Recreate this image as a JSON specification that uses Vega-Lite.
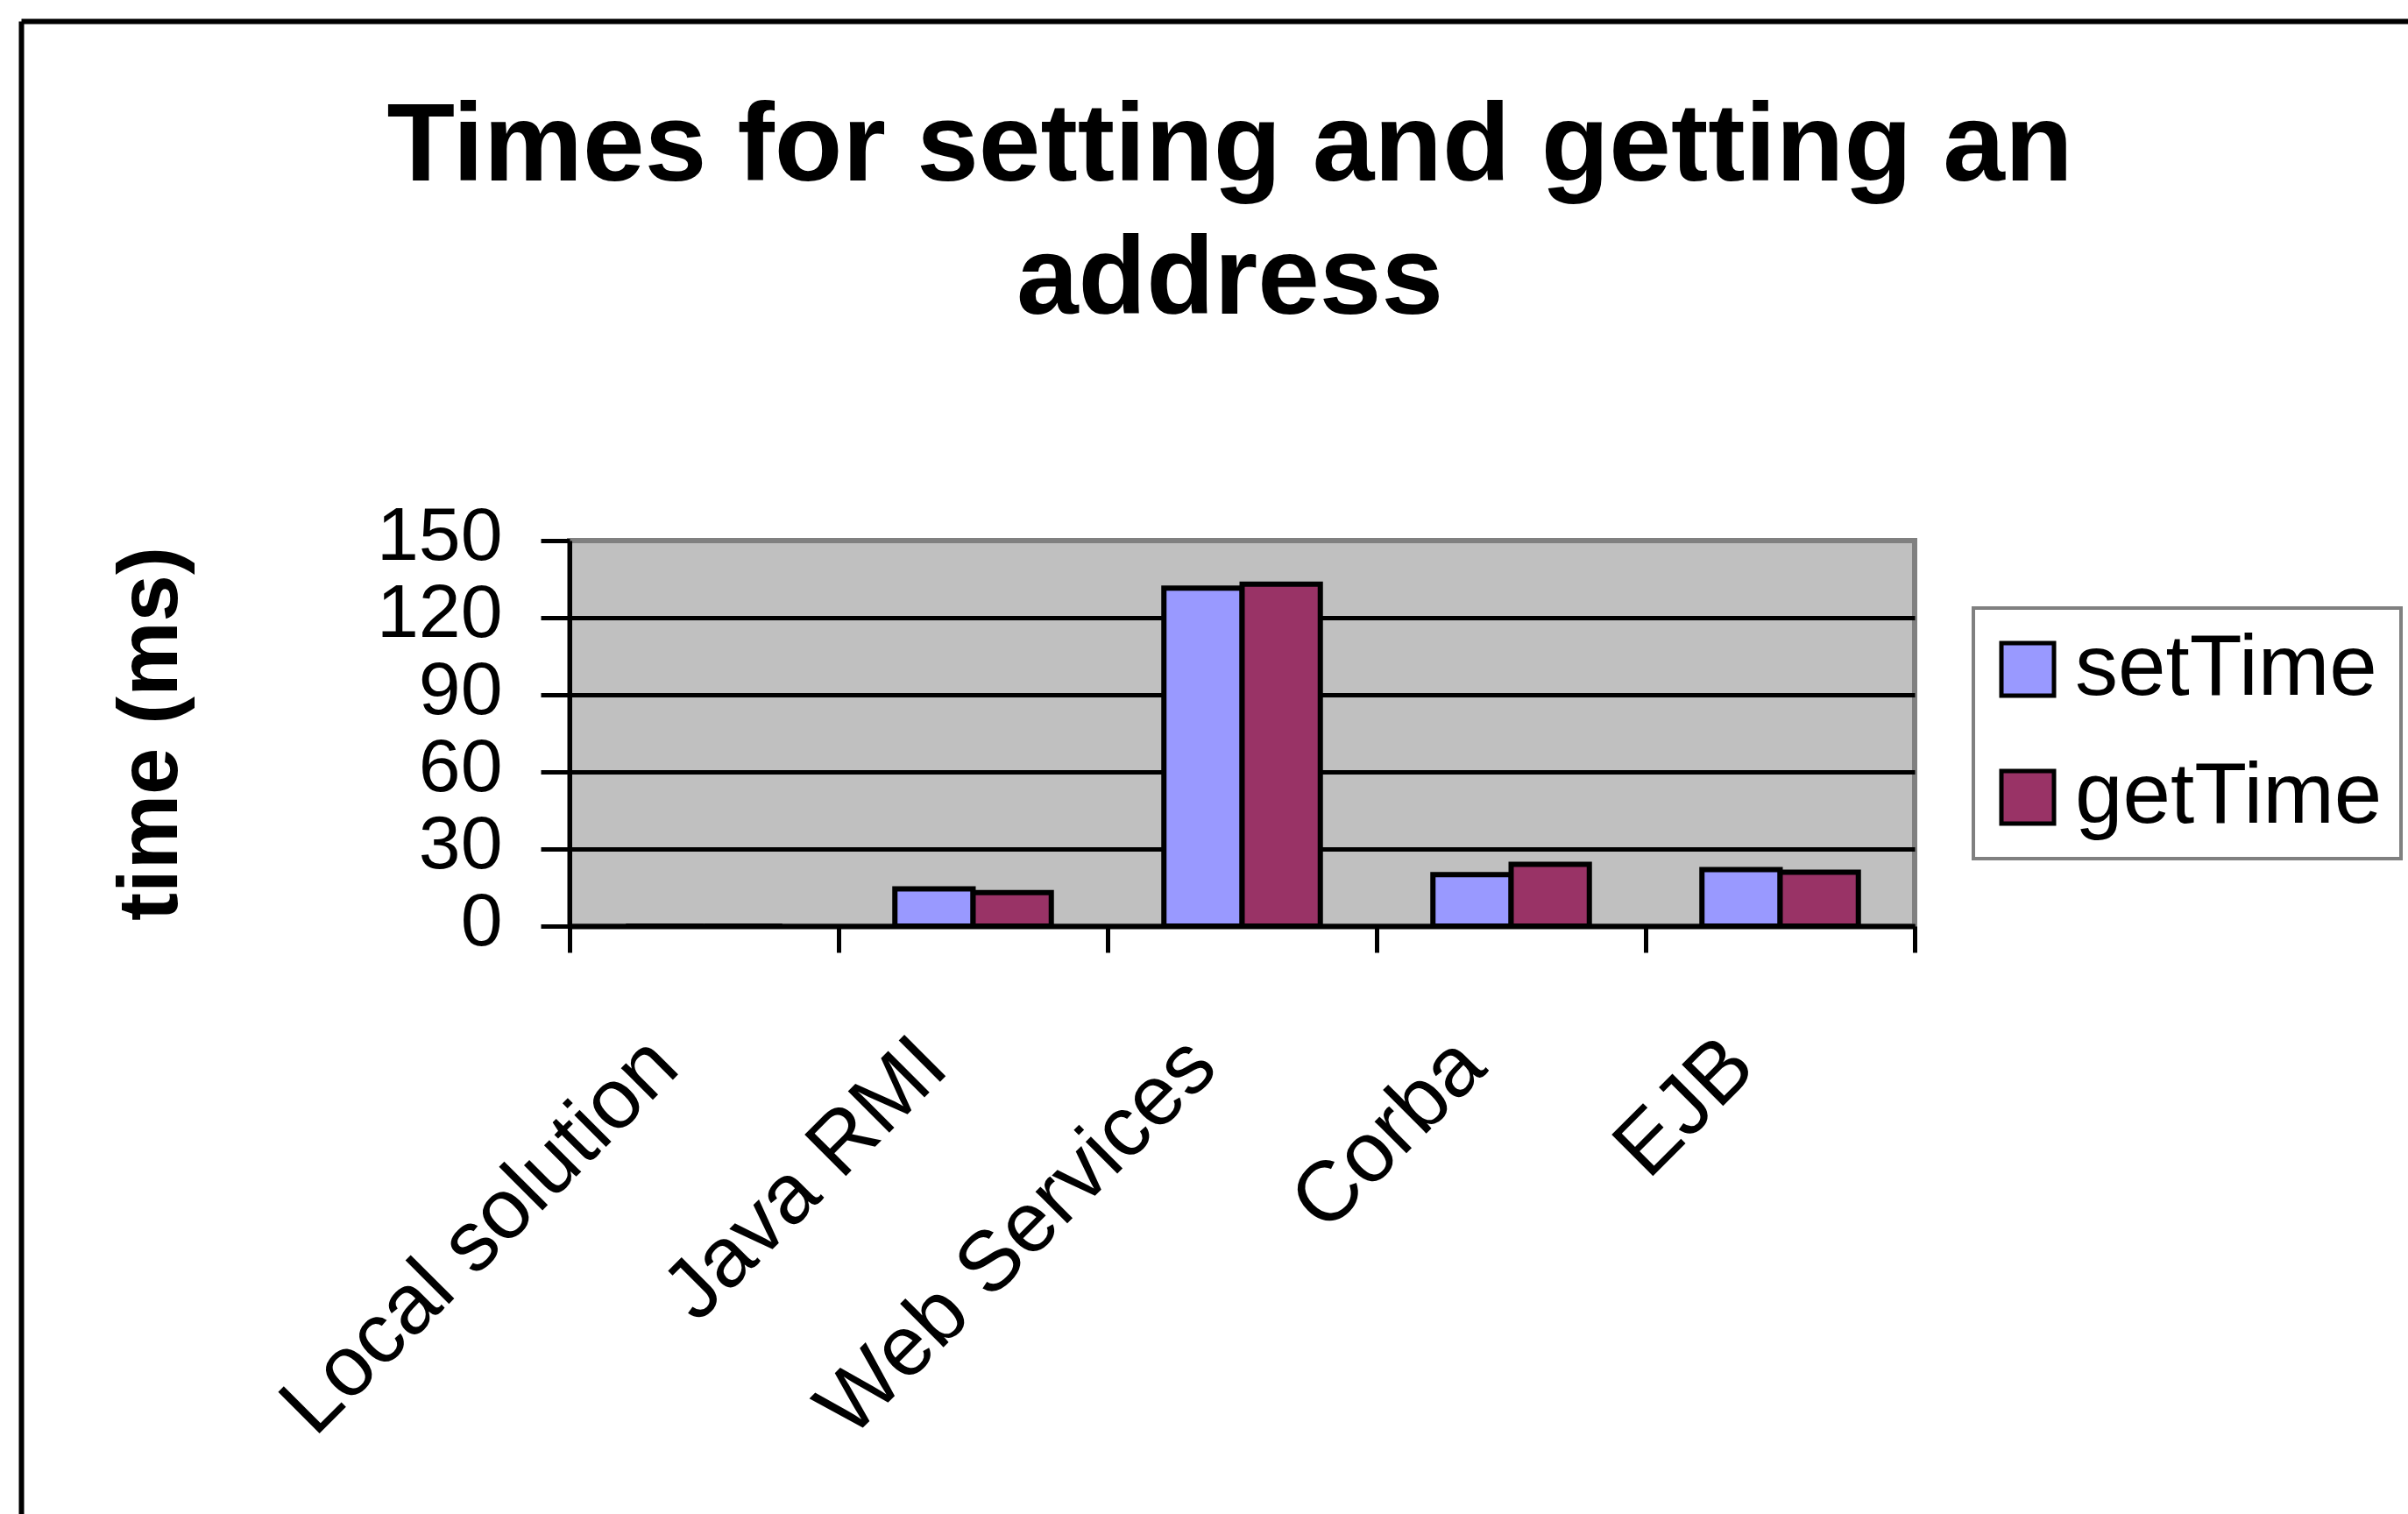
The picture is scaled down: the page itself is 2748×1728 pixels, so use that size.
{
  "$schema": "https://vega.github.io/schema/vega-lite/v6.json",
  "background": "white",
  "autosize": {"type": "none"},
  "padding": {"left": 650, "top": 617, "right": 563, "bottom": 671},
  "width": 1535,
  "height": 440,
  "view": {"fill": "#C0C0C0", "stroke": "#808080", "strokeWidth": 6},
  "config": {
    "font": "Liberation Sans",
    "axis": {"labelFont": "Liberation Sans", "titleFont": "Liberation Sans"},
    "legend": {"labelFont": "Liberation Sans", "strokeWidth": 4}
  },
  "title": {
    "text": ["Times for setting and getting an", "address"],
    "font": "Liberation Sans",
    "fontSize": 127,
    "fontWeight": "bold",
    "lineHeight": 152,
    "color": "black",
    "anchor": "middle",
    "offset": -361,
    "dx": -14
  },
  "data": {
    "values": [
      {"platform": "Local solution", "series": "setTime", "ms": 0},
      {"platform": "Local solution", "series": "getTime", "ms": 0},
      {"platform": "Java RMI", "series": "setTime", "ms": 14.5},
      {"platform": "Java RMI", "series": "getTime", "ms": 13},
      {"platform": "Web Services", "series": "setTime", "ms": 131.5},
      {"platform": "Web Services", "series": "getTime", "ms": 133},
      {"platform": "Corba", "series": "setTime", "ms": 20},
      {"platform": "Corba", "series": "getTime", "ms": 24},
      {"platform": "EJB", "series": "setTime", "ms": 22},
      {"platform": "EJB", "series": "getTime", "ms": 21}
    ]
  },
  "resolve": {
    "scale": {"x": "independent", "y": "independent"},
    "axis": {"x": "independent", "y": "independent"}
  },
  "layer": [
    {
      "mark": {"type": "bar", "stroke": "black", "strokeWidth": 6},
      "encoding": {
        "x": {
          "field": "platform",
          "type": "nominal",
          "sort": null,
          "scale": {"paddingInner": 0, "paddingOuter": 0},
          "axis": {
            "orient": "bottom",
            "title": null,
            "tickBand": "extent",
            "domainColor": "black",
            "domainWidth": 6,
            "tickColor": "black",
            "tickWidth": 5,
            "tickSize": 30,
            "labelAngle": -45,
            "labelFontSize": 97,
            "labelColor": "black",
            "labelOffset": -80,
            "labelPadding": 80,
            "labelOverlap": false,
            "labelBound": false,
            "labelFlush": false,
            "labelLimit": 0
          }
        },
        "xOffset": {
          "field": "series",
          "type": "nominal",
          "sort": ["setTime", "getTime"],
          "scale": {"paddingInner": 0, "paddingOuter": 0.72}
        },
        "y": {
          "field": "ms",
          "type": "quantitative",
          "scale": {"domain": [0, 150], "nice": false},
          "axis": {
            "orient": "left",
            "values": [0, 30, 60, 90, 120, 150],
            "grid": true,
            "gridColor": {"condition": {"test": "datum.value === 150", "value": "#808080"}, "value": "black"},
            "gridWidth": 5,
            "domainColor": "black",
            "domainWidth": 5,
            "tickColor": "black",
            "tickWidth": 5,
            "tickSize": 33,
            "labelFontSize": 86,
            "labelColor": "black",
            "labelPadding": 44,
            "labelOffset": -5,
            "labelOverlap": false,
            "labelBound": false,
            "labelFlush": false,
            "title": "time (ms)",
            "titleFontSize": 96,
            "titleFontWeight": "bold",
            "titleColor": "black",
            "titlePadding": 229
          }
        },
        "color": {
          "field": "series",
          "type": "nominal",
          "sort": ["setTime", "getTime"],
          "scale": {"domain": ["setTime", "getTime"], "range": ["#9999FF", "#993366"]},
          "legend": {
            "title": null,
            "orient": "none",
            "legendX": 1602,
            "legendY": 77,
            "symbolType": "square",
            "symbolSize": 3600,
            "symbolStrokeColor": "black",
            "symbolStrokeWidth": 5,
            "symbolOpacity": 1,
            "symbolOffset": -8,
            "labelFontSize": 98,
            "labelColor": "black",
            "labelOffset": 5,
            "labelLimit": 0,
            "rowPadding": 48,
            "padding": 21,
            "strokeColor": "#808080",
            "fillColor": "white"
          }
        }
      }
    },
    {
      "mark": {"type": "point", "opacity": 0},
      "encoding": {
        "x": {
          "datum": 0,
          "type": "quantitative",
          "scale": {"domain": [0, 1], "range": [-626, 2098]},
          "axis": {"orient": "top", "offset": 593, "labels": false, "ticks": false, "grid": false, "title": null, "domainColor": "black", "domainWidth": 6}
        },
        "y": {
          "datum": 0,
          "type": "quantitative",
          "scale": {"domain": [0, 1], "range": [1111, -593]},
          "axis": {"orient": "left", "offset": 626, "labels": false, "ticks": false, "grid": false, "title": null, "domainColor": "black", "domainWidth": 6}
        }
      }
    }
  ]
}
